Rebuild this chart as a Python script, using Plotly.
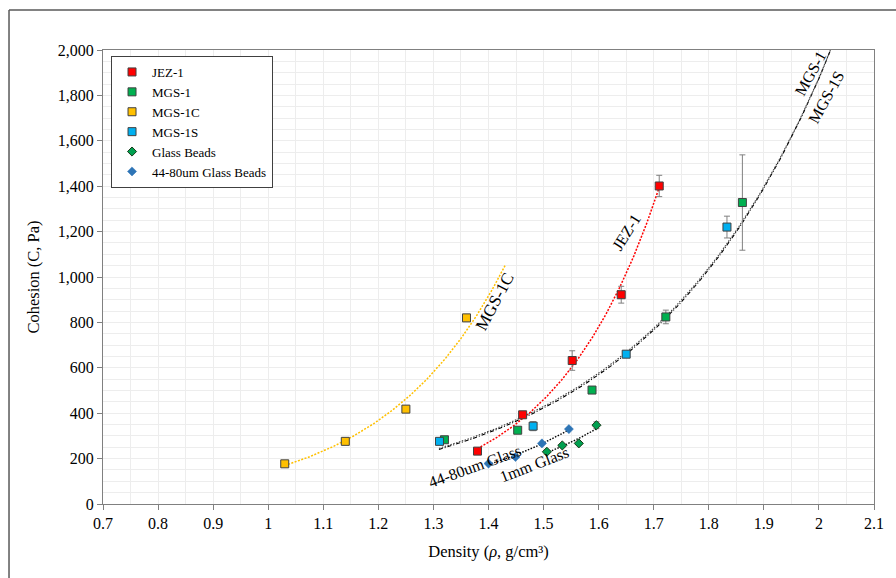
import numpy as np
import plotly.graph_objects as go

# ---- data ----
jez_x = [1.380, 1.462, 1.552, 1.641, 1.710]
jez_y = [233, 393, 632, 922, 1401]
jez_err = [10, 15, 43, 37, 47]

mgs1_x = [1.320, 1.453, 1.588, 1.722, 1.861]
mgs1_y = [283, 325, 502, 824, 1328]
mgs1_err = [8, 10, 15, 30, 210]

mgs1c_x = [1.030, 1.140, 1.250, 1.360]
mgs1c_y = [177, 276, 418, 820]
mgs1c_err = [6, 12, 14, 10]

mgs1s_x = [1.311, 1.481, 1.650, 1.833]
mgs1s_y = [276, 343, 660, 1220]
mgs1s_err = [8, 20, 12, 48]

gb_x = [1.506, 1.534, 1.564, 1.596]
gb_y = [230, 258, 267, 347]
gb_err = [5, 6, 5, 15]

gb44_x = [1.400, 1.449, 1.497, 1.546]
gb44_y = [178, 207, 267, 330]

x_ticks = [0.7, 0.8, 0.9, 1.0, 1.1, 1.2, 1.3, 1.4, 1.5, 1.6, 1.7, 1.8, 1.9, 2.0, 2.1]
y_ticks = [0, 200, 400, 600, 800, 1000, 1200, 1400, 1600, 1800, 2000]

SERIF = "Liberation Serif, Times New Roman, serif"


def exp_trend(xs, ys, x0, x1, n=160):
    b, lna = np.polyfit(np.array(xs), np.log(np.array(ys)), 1)
    xx = np.linspace(x0, x1, n)
    return xx, np.exp(lna + b * xx)


fig = go.Figure()

# ---- trendlines ----
tx, ty = exp_trend(mgs1c_x, mgs1c_y, 1.03, 1.43)
fig.add_trace(go.Scatter(x=tx, y=ty, mode="lines", showlegend=False, hoverinfo="skip",
                         line=dict(color="#FFC000", width=1.5, dash="2px,1.5px")))
tx, ty = exp_trend(jez_x, jez_y, 1.38, 1.71)
fig.add_trace(go.Scatter(x=tx, y=ty, mode="lines", showlegend=False, hoverinfo="skip",
                         line=dict(color="#FF0000", width=1.5, dash="2px,1.5px")))
tx, ty = exp_trend(mgs1_x, mgs1_y, 1.31, 2.05)
fig.add_trace(go.Scatter(x=tx, y=ty, mode="lines", showlegend=False, hoverinfo="skip",
                         line=dict(color="#000000", width=1.1, dash="4px,2px,1px,2px")))
tx, ty = exp_trend(mgs1s_x, mgs1s_y, 1.31, 2.05)
fig.add_trace(go.Scatter(x=tx, y=ty, mode="lines", showlegend=False, hoverinfo="skip",
                         line=dict(color="#404040", width=1.1, dash="1.5px,1.5px")))
tx, ty = exp_trend(gb_x, gb_y, 1.505, 1.597)
fig.add_trace(go.Scatter(x=tx, y=ty, mode="lines", showlegend=False, hoverinfo="skip",
                         line=dict(color="#000000", width=1.4, dash="1.5px,1.5px")))
tx, ty = exp_trend(gb44_x, gb44_y, 1.40, 1.547)
fig.add_trace(go.Scatter(x=tx, y=ty, mode="lines", showlegend=False, hoverinfo="skip",
                         line=dict(color="#000000", width=1.4, dash="1.5px,1.5px")))

# ---- data series ----
def err(arr):
    return dict(type="data", array=arr, visible=True, color="#808080", thickness=1, width=3)

sq_line = dict(color="#404040", width=1)
fig.add_trace(go.Scatter(x=jez_x, y=jez_y, mode="markers", name="JEZ-1", error_y=err(jez_err),
                         marker=dict(symbol="square", size=8, color="#FF0000", line=sq_line)))
fig.add_trace(go.Scatter(x=mgs1_x, y=mgs1_y, mode="markers", name="MGS-1", error_y=err(mgs1_err),
                         marker=dict(symbol="square", size=8, color="#00B050", line=sq_line)))
fig.add_trace(go.Scatter(x=mgs1c_x, y=mgs1c_y, mode="markers", name="MGS-1C", error_y=err(mgs1c_err),
                         marker=dict(symbol="square", size=8, color="#FFC000", line=sq_line)))
fig.add_trace(go.Scatter(x=mgs1s_x, y=mgs1s_y, mode="markers", name="MGS-1S", error_y=err(mgs1s_err),
                         marker=dict(symbol="square", size=8, color="#00B0F0", line=sq_line)))
fig.add_trace(go.Scatter(x=gb_x, y=gb_y, mode="markers", name="Glass Beads", error_y=err(gb_err),
                         marker=dict(symbol="diamond", size=7, color="#00A050",
                                     line=dict(color="#1a3a1a", width=1))))
fig.add_trace(go.Scatter(x=gb44_x, y=gb44_y, mode="markers", name="44-80um Glass Beads",
                         marker=dict(symbol="diamond", size=7, color="#2E75B6",
                                     line=dict(color="#2E75B6", width=0.5))))

# ---- curve labels ----
labels = [
    ("MGS-1C", 1.4120, 890, -62, 17),
    ("JEZ-1", 1.650, 1196, -58, 16),
    ("MGS-1", 1.985, 1895, -61, 16),
    ("MGS-1S", 2.0129, 1791, -61, 16),
    ("44-80um Glass", 1.3737, 167, -20, 16),
    ("1mm Glass", 1.4826, 176, -21, 16),
]
for txt, lx, ly, ang, fs in labels:
    fig.add_annotation(x=lx, y=ly, text=txt, showarrow=False, textangle=ang,
                       font=dict(family=SERIF, size=fs, color="#000000"))

# outer chart border (only left and top edges fall inside the picture)
fig.add_shape(type="line", xref="paper", yref="paper", x0=-0.1219, y0=-0.3, x1=-0.1219, y1=1.088,
              line=dict(color="#595959", width=1.5), layer="below")
fig.add_shape(type="line", xref="paper", yref="paper", x0=-0.1219, y0=1.088, x1=1.3, y1=1.088,
              line=dict(color="#595959", width=1.5), layer="below")

grid = "#EDEDED"
fig.update_layout(
    width=896, height=578,
    margin=dict(l=103, r=22, t=50, b=74),
    paper_bgcolor="white", plot_bgcolor="white",
    font=dict(family=SERIF, size=16, color="#000000"),
    showlegend=True,
    legend=dict(x=0.0104, y=0.9868, xanchor="left", yanchor="top",
                bordercolor="#404040", borderwidth=1, bgcolor="white",
                font=dict(family=SERIF, size=13), itemwidth=30),
    xaxis=dict(range=[0.7, 2.1], tickvals=x_ticks, ticktext=[f"{v:g}" for v in x_ticks],
               tickfont=dict(size=16),
               showgrid=True, gridcolor=grid, gridwidth=1,
               minor=dict(dtick=0.05, tick0=0.7, showgrid=True, gridcolor=grid, gridwidth=1),
               ticks="outside", ticklen=5, tickcolor="#808080",
               showline=True, linecolor="#808080", linewidth=1, mirror=True, zeroline=False,
               title=dict(text="Density (<i>ρ</i>, g/cm³)", font=dict(size=16.5), standoff=14)),
    yaxis=dict(range=[0, 2000], tickvals=y_ticks, tickformat=",d",
               tickfont=dict(size=16),
               showgrid=True, gridcolor=grid, gridwidth=1,
               minor=dict(dtick=50, tick0=0, showgrid=True, gridcolor=grid, gridwidth=1),
               ticks="outside", ticklen=5, tickcolor="#808080",
               showline=True, linecolor="#808080", linewidth=1, mirror=True, zeroline=False,
               title=dict(text="Cohesion (C, Pa)", font=dict(size=16.5), standoff=14)),
)

fig.write_html("out.html")
